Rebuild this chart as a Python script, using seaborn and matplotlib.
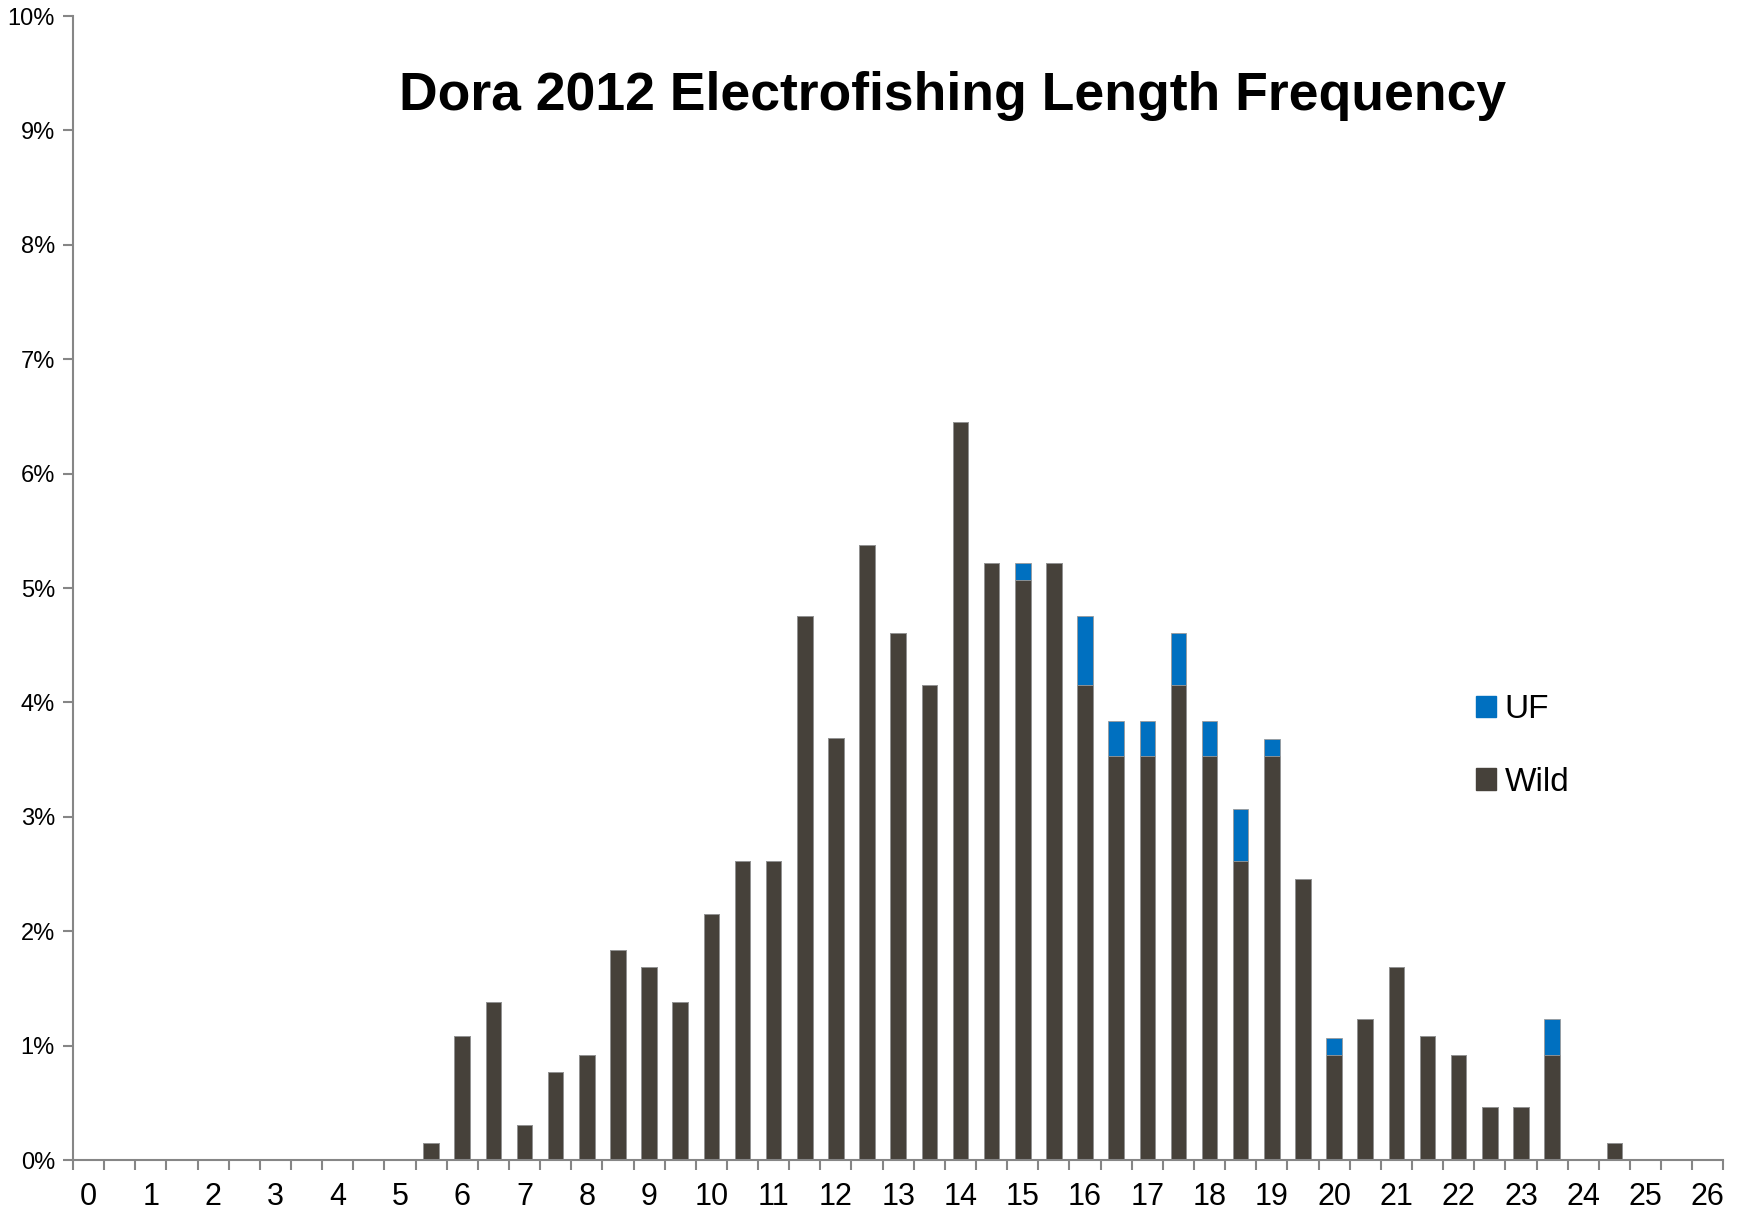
import numpy as np
import pandas as pd
import matplotlib
matplotlib.use("Agg")
import matplotlib.pyplot as plt
from matplotlib.patches import Patch
from matplotlib.ticker import FuncFormatter
import seaborn as sns

# length bins (inches), half-inch categories
lengths = ["0", "0.5", "1", "1.5", "2", "2.5", "3", "3.5", "4", "4.5",
           "5", "5.5", "6", "6.5", "7", "7.5", "8", "8.5", "9", "9.5",
           "10", "10.5", "11", "11.5", "12", "12.5", "13", "13.5", "14", "14.5",
           "15", "15.5", "16", "16.5", "17", "17.5", "18", "18.5", "19", "19.5",
           "20", "20.5", "21", "21.5", "22", "22.5", "23", "23.5", "24", "24.5",
           "25", "25.5", "26"]

# percent of catch, wild fish
wild = [0, 0, 0, 0, 0, 0, 0, 0, 0, 0,
        0, 0.15, 1.08, 1.38, 0.31, 0.77, 0.92, 1.84, 1.69, 1.38,
        2.15, 2.61, 2.61, 4.76, 3.69, 5.38, 4.61, 4.15, 6.45, 5.22,
        5.07, 5.22, 4.15, 3.53, 3.53, 4.15, 3.53, 2.61, 3.53, 2.46,
        0.92, 1.23, 1.69, 1.08, 0.92, 0.46, 0.46, 0.92, 0, 0.15,
        0, 0, 0]

# percent of catch, UF fish (stacked on top of wild)
uf = [0, 0, 0, 0, 0, 0, 0, 0, 0, 0,
      0, 0, 0, 0, 0, 0, 0, 0, 0, 0,
      0, 0, 0, 0, 0, 0, 0, 0, 0, 0,
      0.15, 0, 0.61, 0.31, 0.31, 0.46, 0.31, 0.46, 0.15, 0,
      0.15, 0, 0, 0, 0, 0, 0, 0.31, 0, 0,
      0, 0, 0]

tick_labels = [str(i) for i in range(27)]

BLUE = "#0070C0"
DARK = "#46413A"
GRAY = "#868686"

df = pd.DataFrame({"length": lengths, "wild": wild, "uf": uf})
df["total"] = df["wild"] + df["uf"]

sns.set_style("white")
plt.rcParams["font.family"] = ["Liberation Sans", "DejaVu Sans"]
plt.rcParams["text.color"] = "black"
plt.rcParams["xtick.color"] = "black"
plt.rcParams["ytick.color"] = "black"

fig = plt.figure(figsize=(17.39, 12.17), dpi=100)
ax = fig.add_axes([0.042, 0.0468, 0.949, 0.940])

sns.barplot(data=df, x="length", y="total", order=lengths, color=BLUE,
            width=0.5, saturation=1, ax=ax, edgecolor="#9a9a9a", linewidth=0.6)
sns.barplot(data=df, x="length", y="wild", order=lengths, color=DARK,
            width=0.5, saturation=1, ax=ax, edgecolor="#9a9a9a", linewidth=0.6)

ax.set_xlim(-0.5, len(lengths) - 0.5)
ax.set_ylim(0, 10)
ax.set_yticks(np.arange(0, 11, 1))
ax.yaxis.set_major_formatter(FuncFormatter(lambda v, p: f"{v:.0f}%"))

# integer labels on every other category, tick marks at category boundaries
ax.set_xticks(np.arange(0, len(lengths), 2))
ax.set_xticklabels(tick_labels)
ax.set_xticks(np.arange(-0.5, len(lengths), 1), minor=True)
ax.tick_params(axis="x", which="major", bottom=True, length=0, labelsize=22,
               pad=16, labelcolor="black")
ax.tick_params(axis="x", which="minor", bottom=True, length=7, width=1.5,
               color=GRAY, direction="out")
ax.tick_params(axis="y", which="major", left=True, length=7, width=1.5,
               color=GRAY, direction="out", labelsize=17, pad=6,
               labelcolor="black")
ax.set_xlabel("")
ax.set_ylabel("")

sns.despine(ax=ax, top=True, right=True)
for s in ["left", "bottom"]:
    ax.spines[s].set_color(GRAY)
    ax.spines[s].set_linewidth(1.5)

ax.text(0.533, 0.93, "Dora 2012 Electrofishing Length Frequency",
        transform=ax.transAxes, ha="center", va="center",
        fontsize=38.5, fontweight="bold", color="black")

handles = [Patch(facecolor=BLUE, edgecolor=BLUE, label="UF"),
           Patch(facecolor=DARK, edgecolor=DARK, label="Wild")]
ax.legend(handles=handles, loc="center left", bbox_to_anchor=(0.832, 0.362),
          frameon=False, fontsize=24, handlelength=0.6, handleheight=0.6,
          handletextpad=0.25, labelspacing=1.25, labelcolor="black")

fig.savefig("out.png", dpi=100)
